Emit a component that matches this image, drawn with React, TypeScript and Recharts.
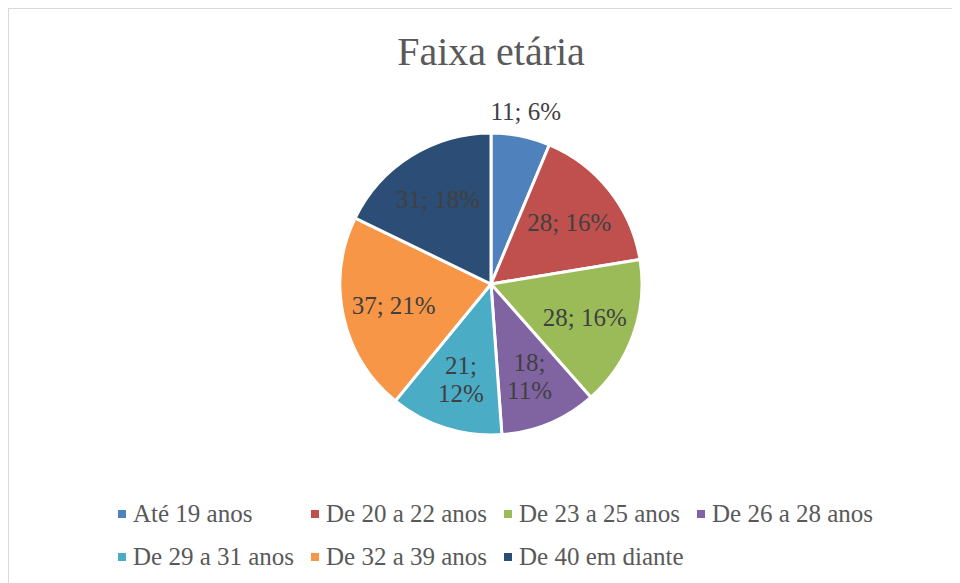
import React from 'react';
import { PieChart, Pie, Cell } from 'recharts';

const categories = ['Até 19 anos', 'De 20 a 22 anos', 'De 23 a 25 anos', 'De 26 a 28 anos', 'De 29 a 31 anos', 'De 32 a 39 anos', 'De 40 em diante'];
const counts = [11, 28, 28, 18, 21, 37, 31];
const percentLabels = ['6%', '16%', '16%', '11%', '12%', '21%', '18%'];
const colors = ['#4F81BD', '#C0504D', '#9BBB59', '#8064A2', '#4BACC6', '#F79646', '#2C4D75'];
const title = 'Faixa etária';

const data = categories.map((name, i) => ({ name, value: counts[i] }));

const FONT = '"Liberation Serif", serif';
const RAD = Math.PI / 180;

const renderLabel = (props: any) => {
  const { cx, cy, midAngle, outerRadius, percent, index } = props;
  const outside = percent < 0.08;
  const twoLines = !outside && percent < 0.14;
  const r = outside ? outerRadius + 25 : outerRadius * 0.66;
  const x = cx + r * Math.cos(-midAngle * RAD);
  const y = cy + r * Math.sin(-midAngle * RAD);
  const v = counts[index];
  const p = percentLabels[index];
  if (twoLines) {
    return (
      <text x={x} y={y} fill="#404040" fontFamily={FONT} fontSize={25} textAnchor="middle" dominantBaseline="central">
        <tspan x={x} dy={-14}>{`${v};`}</tspan>
        <tspan x={x} dy={28}>{p}</tspan>
      </text>
    );
  }
  return (
    <text x={x} y={y} fill="#404040" fontFamily={FONT} fontSize={25} textAnchor="middle" dominantBaseline="central">
      {`${v}; ${p}`}
    </text>
  );
};

export default function App() {
  const W = 951;
  const H = 574;
  const colPitch = 193;
  return (
    <div style={{ position: 'relative', width: W, height: H, borderTop: '1px solid #d9d9d9', borderLeft: '1px solid #d9d9d9', background: '#fff', overflow: 'hidden' }}>
      <PieChart width={W} height={H} margin={{ top: 0, right: 0, bottom: 0, left: 0 }}>
        <Pie
          data={data}
          dataKey="value"
          nameKey="name"
          cx={482}
          cy={275}
          outerRadius={151}
          startAngle={90}
          endAngle={-270}
          stroke="#ffffff"
          strokeWidth={3}
          label={renderLabel}
          labelLine={false}
          isAnimationActive={false}
        >
          {data.map((d, i) => (
            <Cell key={d.name} fill={colors[i]} />
          ))}
        </Pie>
      </PieChart>
      <svg width={W} height={H} style={{ position: 'absolute', left: 0, top: 0, pointerEvents: 'none' }}>
        <text x={482} y={56} textAnchor="middle" fontFamily={FONT} fontSize={40} fill="#595959">{title}</text>
        {categories.map((c, i) => {
          const row = i < 4 ? 0 : 1;
          const col = i < 4 ? i : i - 4;
          const sx = 109 + col * colPitch;
          const base = row === 0 ? 513 : 556;
          return (
            <g key={c}>
              <rect x={sx} y={base - 12} width={8} height={8} fill={colors[i]} />
              <text x={sx + 15} y={base} fontFamily={FONT} fontSize={25} fill="#595959">{c}</text>
            </g>
          );
        })}
      </svg>
    </div>
  );
}
